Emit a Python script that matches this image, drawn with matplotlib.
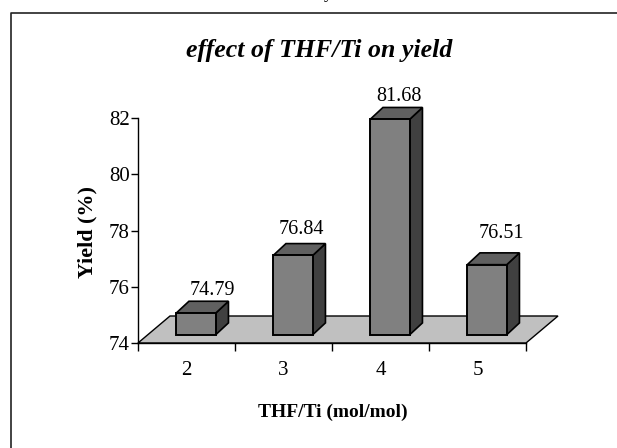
import matplotlib
matplotlib.use('Agg')
import matplotlib.pyplot as plt
from matplotlib.patches import Polygon

plt.rcParams['font.family'] = ['Liberation Serif', 'DejaVu Serif']

categories = ['2', '3', '4', '5']
yields = [74.79, 76.84, 81.68, 76.51]
y_ticks = [74, 76, 78, 80, 82]

W, H = 617, 448
fig = plt.figure(figsize=(W / 100, H / 100), dpi=100)
# pixel box of the plot: x 138-526, y 118-343
ax = fig.add_axes([138 / W, 1 - 343 / H, 388 / W, 225 / H])
ax.set_xlim(0, 4)
ax.set_ylim(74, 82)
px = 4 / 388  # one pixel in x data units
py = 8 / 225  # one pixel in y data units

# floor
floor = Polygon([(0, 74), (4, 74), (4 + 32 * px, 74 + 27 * py), (32 * px, 74 + 27 * py)],
                closed=True, fc='#c0c0c0', ec='black', lw=1, clip_on=False, zorder=1)
ax.add_patch(floor)

# 3d looking bars
bar_w = 39.5 * px
dx = 12.7 * px
dy = 11.8 * py
shift = 9.5 * px
lift = 8.3 * py
# the value labels were moved by hand in the original, offsets in pixels
label_dx = [16.5, 8, 8.5, 14.5]
label_gap = [6, 10, 6, 15]
for i, v in enumerate(yields):
    left = i + 0.5 + shift - bar_w / 2
    right = left + bar_w
    bottom = 74 + lift
    top = v + lift - 0.02
    front = [(left, bottom), (right, bottom), (right, top), (left, top)]
    side = [(right, bottom), (right + dx, bottom + dy), (right + dx, top + dy), (right, top)]
    lid = [(left, top), (right, top), (right + dx, top + dy), (left + dx, top + dy)]
    ax.add_patch(Polygon(side, closed=True, fc='#404040', ec='black', lw=1.2, clip_on=False, zorder=3))
    ax.add_patch(Polygon(lid, closed=True, fc='#606060', ec='black', lw=1.2, clip_on=False, zorder=3))
    ax.add_patch(Polygon(front, closed=True, fc='#808080', ec='black', lw=1.4, clip_on=False, zorder=4))
    ax.text(i + 0.5 + shift + label_dx[i] * px, top + dy + label_gap[i] * py, '%.2f' % v,
            ha='center', va='baseline', fontsize=14.5, color='black', zorder=5)

for s in ['top', 'right']:
    ax.spines[s].set_visible(False)
for s in ['left', 'bottom']:
    ax.spines[s].set_linewidth(1)
    ax.spines[s].set_zorder(2)

ax.set_yticks(y_ticks)
ax.tick_params(axis='y', length=5, width=1, labelsize=15, pad=1)
ax.set_xticks(range(5))
ax.set_xticklabels([])
ax.set_xticks([i + 0.5 for i in range(4)], minor=True)
ax.set_xticklabels(categories, minor=True)
ax.tick_params(axis='x', which='major', length=6, width=1)
ax.tick_params(axis='x', which='minor', length=0, labelsize=15, pad=13)
ax.patch.set_alpha(0)

fig.text(319 / W, 1 - 57 / H, 'effect of THF/Ti on yield', ha='center', va='baseline',
         fontsize=18.6, fontweight='bold', fontstyle='italic')
fig.text(333 / W, 1 - 417 / H, 'THF/Ti (mol/mol)', ha='center', va='baseline',
         fontsize=14, fontweight='bold')
fig.text(87 / W, 1 - 231.5 / H, 'Yield (%)', ha='center', va='center', rotation=90,
         fontsize=15.9, fontweight='bold')
# tail of a letter from the page text above, cut by the image edge
fig.text(328 / W, 1 + 2 / H, 'y', ha='center', va='baseline', fontsize=13)

# chart frame, cut off by the page on the right and bottom
fig.add_artist(plt.Line2D([11 / W, 11 / W, 1], [0, 1 - 13 / H, 1 - 13 / H], color='#222222', lw=1.2,
                          transform=fig.transFigure))

fig.savefig('out.png', dpi=100)
